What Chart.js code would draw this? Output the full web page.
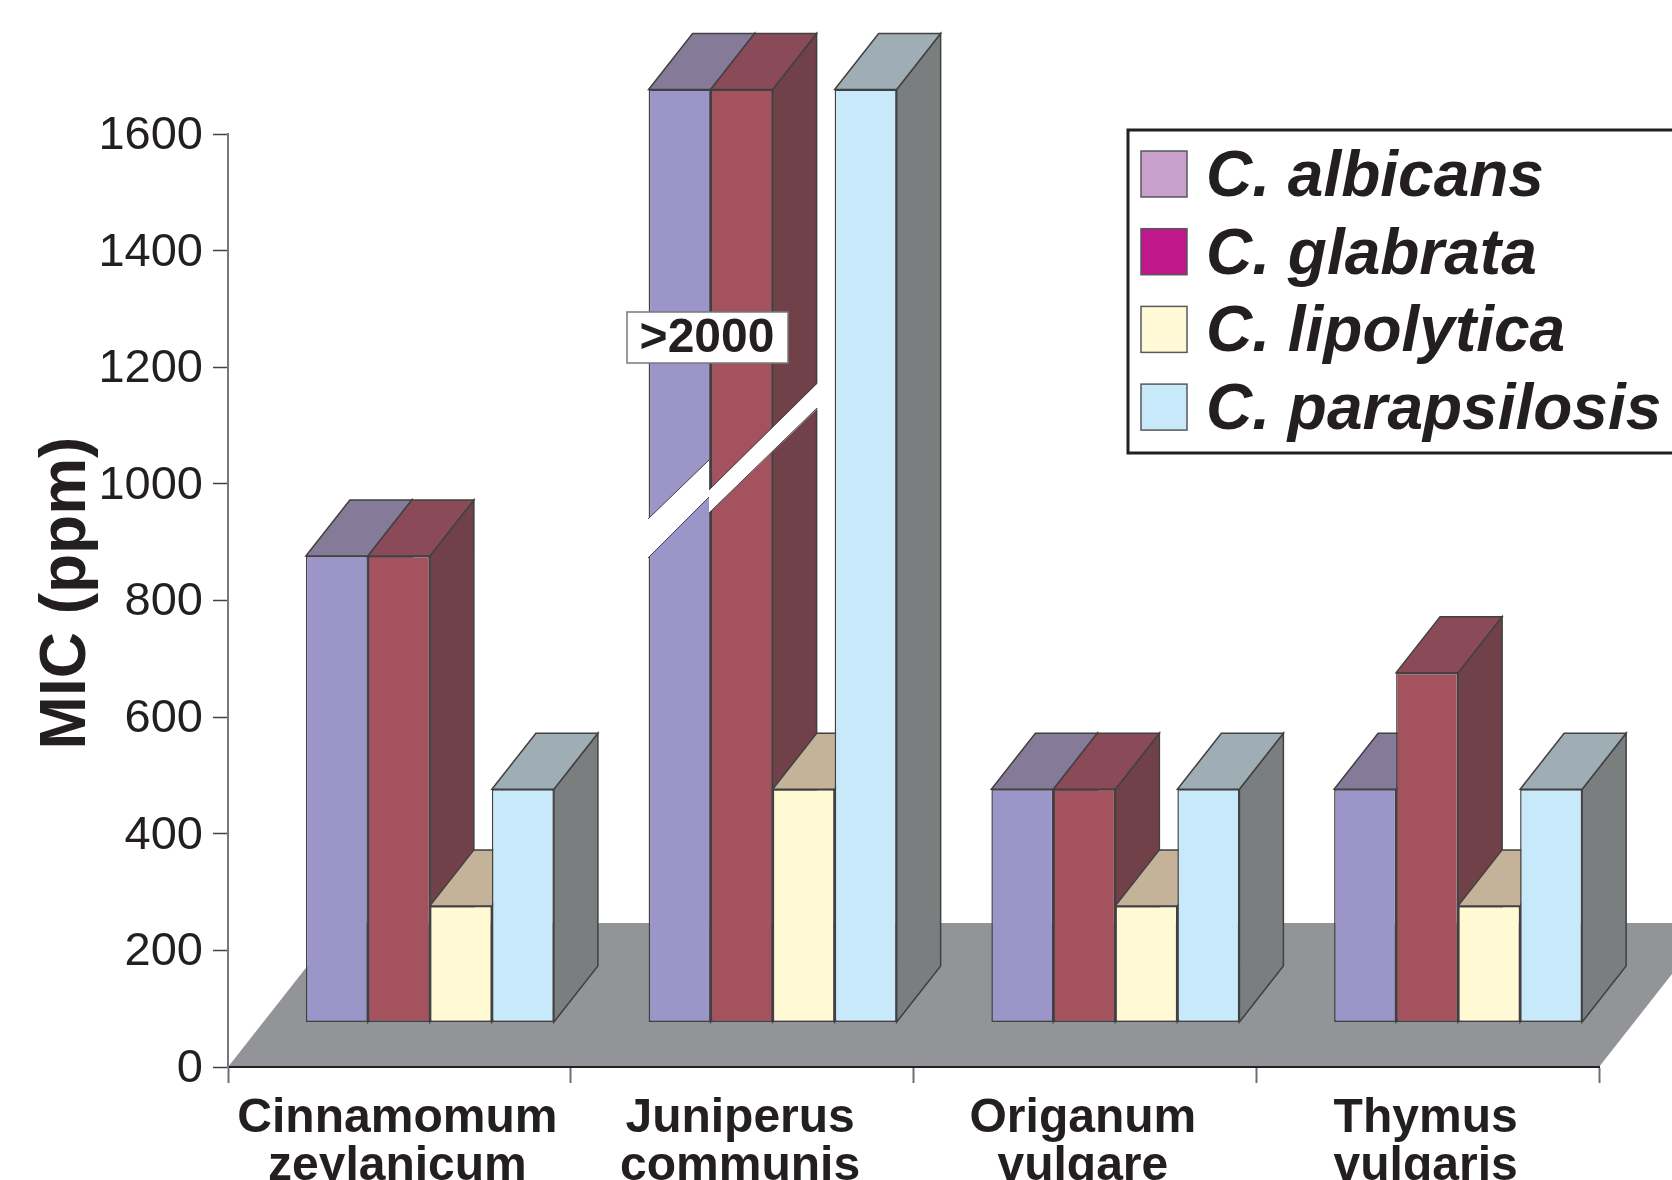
<!DOCTYPE html>
<html>
<head>
<meta charset="utf-8">
<title>MIC by essential oil</title>
<script src="https://cdn.jsdelivr.net/npm/chart.js@4"></script>
<style>
  html, body { margin: 0; padding: 0; background: #fff; overflow: hidden; }
  #wrap { width: 1672px; height: 1180px; }
</style>
</head>
<body>
<div id="wrap"><canvas id="micChart" width="1672" height="1180"></canvas></div>
<script>
const plants = [['Cinnamomum', 'zeylanicum'], ['Juniperus', 'communis'], ['Origanum', 'vulgare'], ['Thymus', 'vulgaris']];
const species = ['C. albicans', 'C. glabrata', 'C. lipolytica', 'C. parapsilosis'];

// Juniperus bars run off the axis (">2000"), they are drawn up to 1600 with a break
const albicans = [800, 1600, 400, 400];
const glabrata = [800, 1600, 400, 600];
const lipolytica = [200, 400, 200, 200];
const parapsilosis = [400, 1600, 400, 400];

const frontColors = ['#9c96c8', '#a4525e', '#fff9d4', '#c7e9fa'];
const topColors = ['#857b98', '#8b4a58', '#c4b398', '#9fadb4'];
const sideColors = ['#6a6488', '#714149', '#8f8a70', '#7a7e7f'];
const legendColors = ['#c8a0cb', '#c0178c', '#fff9d5', '#c7e9fa'];

const ink = '#231f20';
const edge = '#414042';
const depthX = 44, depthY = 56;   // receding edge of every box
const shiftX = 30.5, shiftY = 44.5; // bars stand back from the front of the floor

const poly = (ctx, pts, fill, stroke) => {
  ctx.beginPath();
  pts.forEach((p, i) => i ? ctx.lineTo(p[0], p[1]) : ctx.moveTo(p[0], p[1]));
  ctx.closePath();
  if (fill) { ctx.fillStyle = fill; ctx.fill(); }
  if (stroke) { ctx.strokeStyle = stroke; ctx.lineWidth = 1.5; ctx.stroke(); }
};

const floorPlugin = {
  id: 'floor',
  beforeDraw(chart) {
    const { ctx, chartArea: a } = chart;
    const back = 144, run = back * depthX / depthY;
    poly(ctx, [[a.left, a.bottom], [a.right, a.bottom], [a.right + run, a.bottom - back], [a.left + run, a.bottom - back]], '#929497');
  }
};

const boxPlugin = {
  id: 'boxes',
  // the library's back-to-front order is wrong for boxes, they are painted below
  beforeDatasetDraw() { return false; },
  afterDatasetsDraw(chart) {
    const ctx = chart.ctx;
    chart.data.datasets.forEach((ds, d) => {
      chart.getDatasetMeta(d).data.forEach(bar => {
        const l = bar.x - bar.width / 2 + shiftX, r = bar.x + bar.width / 2 + shiftX;
        const t = bar.y - shiftY, b = bar.base - shiftY;
        poly(ctx, [[r, t], [r + depthX, t - depthY], [r + depthX, b - depthY], [r, b]], sideColors[d], edge);
        poly(ctx, [[l, t], [l + depthX, t - depthY], [r + depthX, t - depthY], [r, t]], topColors[d], edge);
        ctx.save();
        ctx.translate(shiftX, -shiftY);
        bar.draw(ctx);
        ctx.restore();
      });
    });
  }
};

const breakPlugin = {
  id: 'axisBreak',
  afterDatasetsDraw(chart) {
    const ctx = chart.ctx;
    poly(ctx, [[647, 520], [709, 460], [709, 497], [647, 559]], '#fff');
    poly(ctx, [[709, 490], [818, 383], [818, 408], [709, 513]], '#fff');
    [[648, 519, 709, 460], [648, 558, 709, 497], [709, 490, 817, 383], [709, 513, 817, 408]].forEach(s => {
      ctx.beginPath();
      ctx.moveTo(s[0], s[1]);
      ctx.lineTo(s[2], s[3]);
      ctx.strokeStyle = edge;
      ctx.lineWidth = 1;
      ctx.stroke();
    });
    ctx.fillStyle = '#fff';
    ctx.fillRect(627, 312, 161, 51);
    ctx.strokeStyle = '#77787b';
    ctx.lineWidth = 1.5;
    ctx.strokeRect(627, 312, 161, 51);
    ctx.fillStyle = ink;
    ctx.font = 'bold 48px "Liberation Sans"';
    ctx.textAlign = 'center';
    ctx.textBaseline = 'alphabetic';
    ctx.fillText('>2000', 707, 352);
  }
};

const legendPlugin = {
  id: 'boxLegend',
  afterDraw(chart) {
    const ctx = chart.ctx;
    ctx.fillStyle = '#fff';
    ctx.fillRect(1128, 130, 560, 323);
    ctx.strokeStyle = ink;
    ctx.lineWidth = 3;
    ctx.strokeRect(1128, 130, 560, 323);
    ctx.font = 'italic bold 64px "Liberation Sans"';
    ctx.textAlign = 'left';
    ctx.textBaseline = 'alphabetic';
    chart.data.datasets.forEach((ds, i) => {
      const y = 151 + i * 77.7;
      ctx.fillStyle = legendColors[i];
      ctx.fillRect(1141, y, 46, 46);
      ctx.strokeStyle = '#58595b';
      ctx.lineWidth = 1.5;
      ctx.strokeRect(1141, y, 46, 46);
      ctx.fillStyle = ink;
      ctx.fillText(ds.label, 1206, y + 45);
    });
  }
};

// sits a little above the middle of the axis, the scale's own title can't do that
const axisTitlePlugin = {
  id: 'axisTitle',
  afterDraw(chart) {
    const ctx = chart.ctx;
    ctx.save();
    ctx.translate(85, 593);
    ctx.rotate(-Math.PI / 2);
    ctx.font = 'bold 64px "Liberation Sans"';
    ctx.textAlign = 'center';
    ctx.textBaseline = 'alphabetic';
    ctx.fillStyle = ink;
    ctx.fillText('MIC (ppm)', 0, 0);
    ctx.restore();
  }
};

const series = [albicans, glabrata, lipolytica, parapsilosis];

new Chart(document.querySelector('#micChart'), {
  type: 'bar',
  data: {
    labels: plants,
    datasets: species.map((name, i) => ({
      label: name,
      data: series[i],
      backgroundColor: frontColors[i],
      borderColor: edge,
      borderWidth: 1.5,
      borderSkipped: false,
      categoryPercentage: 0.7236,
      barPercentage: 1
    }))
  },
  options: {
    responsive: false,
    animation: false,
    events: [],
    layout: { padding: { top: 134, right: 73, left: 0, bottom: 0 } },
    plugins: { legend: { display: false }, tooltip: { enabled: false } },
    scales: {
      x: {
        afterFit: s => { s.height = 113; },
        border: { color: ink, width: 2 },
        grid: { drawOnChartArea: false, tickLength: 16, color: '#6d6e71', tickWidth: 2 },
        ticks: {
          autoSkip: false, maxRotation: 0, minRotation: 0, padding: 12, labelOffset: -2, color: ink,
          font: { family: '"Liberation Sans"', size: 48, weight: 'bold', lineHeight: 1.0 }
        }
      },
      y: {
        min: 0,
        max: 1600,
        afterFit: s => { s.width = 228; },
        border: { color: '#77787b', width: 2 },
        grid: { drawOnChartArea: false, tickLength: 15, color: '#414042', tickWidth: 1.5 },
        ticks: {
          stepSize: 200, padding: 10, labelOffset: 2, color: ink,
          callback: v => String(v),
          font: { family: '"Liberation Sans"', size: 47 }
        }
      }
    }
  },
  plugins: [floorPlugin, boxPlugin, breakPlugin, legendPlugin, axisTitlePlugin]
});
</script>
</body>
</html>
